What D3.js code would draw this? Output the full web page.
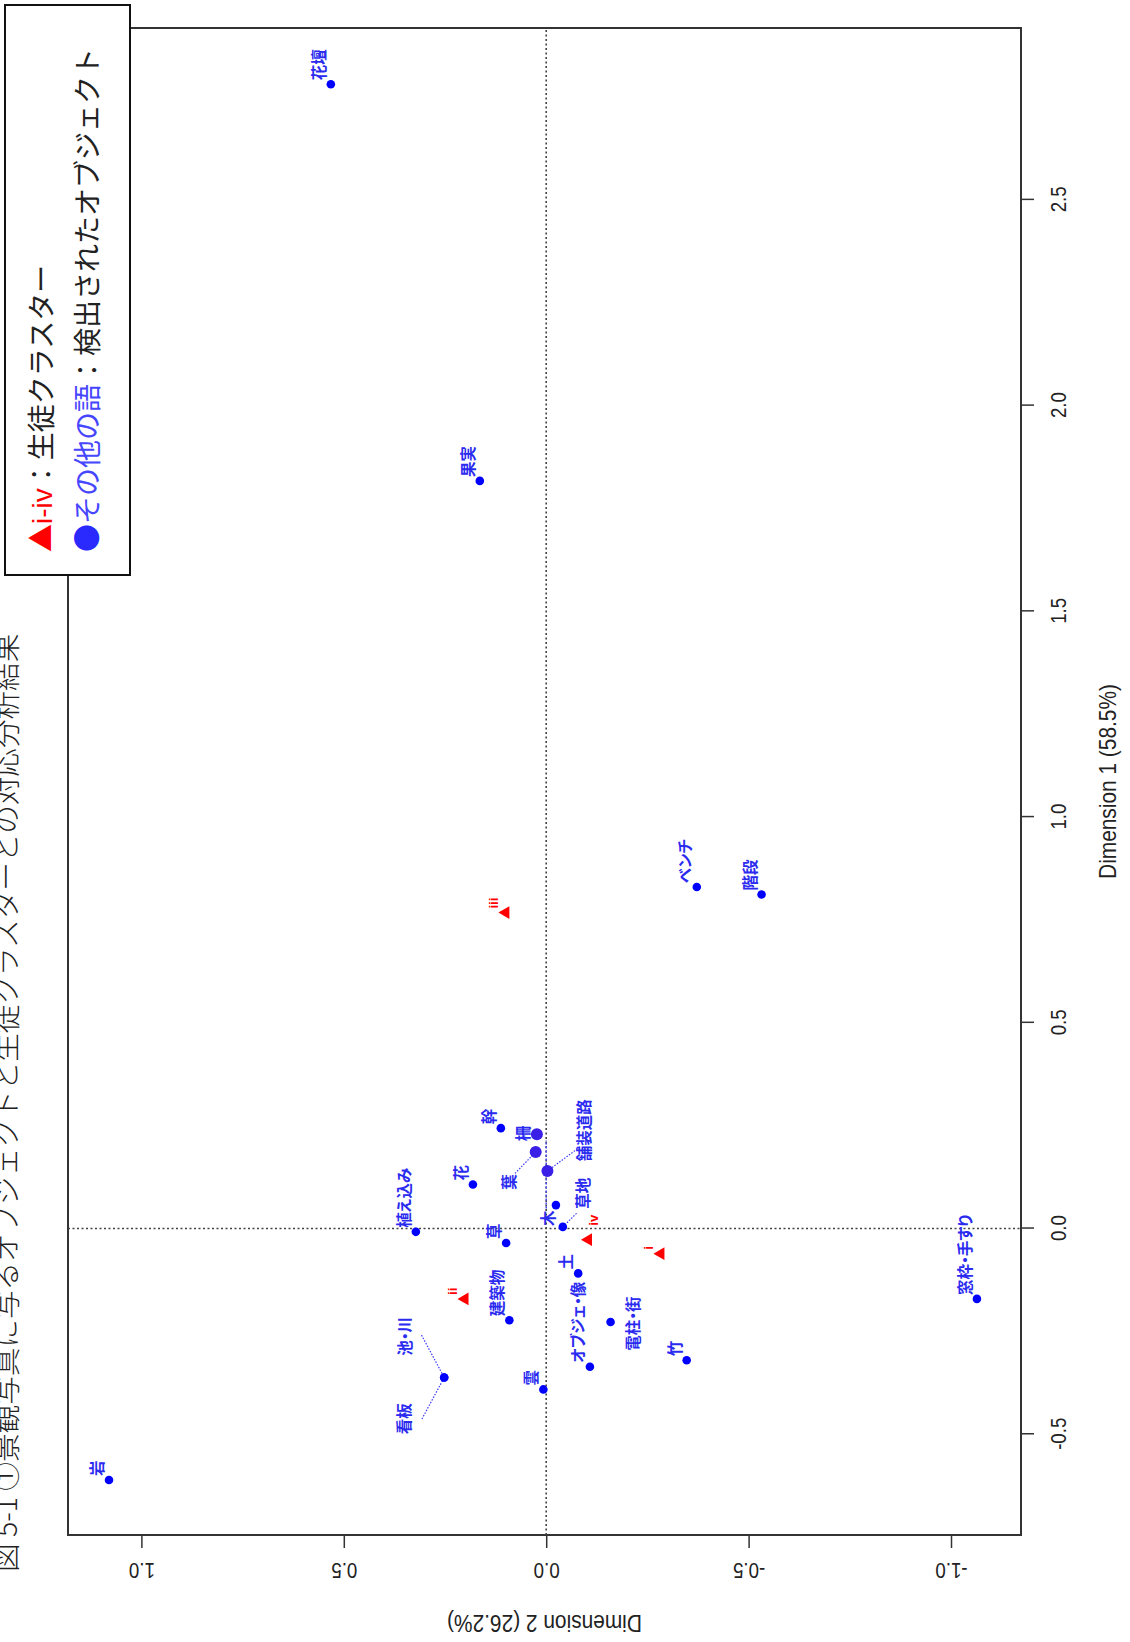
<!DOCTYPE html>
<html>
<head>
<meta charset="utf-8">
<script src="https://cdn.jsdelivr.net/npm/d3@7"></script>
<style>
  body { margin: 0; background: #fff; }
  .jp { font-family: "Noto Sans CJK JP", sans-serif; }
  .num { font-family: "Liberation Sans", Arial, sans-serif; }
</style>
</head>
<body>
<script>
// objects detected in the photos (blue dots)
var objectNames = ["花壇", "果実", "ベンチ", "階段", "岩", "窓枠・手すり", "植え込み", "花", "幹", "柵", "葉", "舗装道路",
                   "木", "草地", "草", "土", "建築物", "電柱・街", "オブジェ・像", "竹", "池・川", "看板", "雲"];
var objectDim1 = [2.781, 1.817, 0.830, 0.812, -0.611, -0.171, -0.008, 0.107, 0.244, 0.229, 0.186, 0.140,
                  0.057, 0.004, -0.035, -0.109, -0.223, -0.227, -0.336, -0.320, -0.362, -0.362, -0.391];
var objectDim2 = [0.532, 0.164, -0.372, -0.532, 1.080, -1.064, 0.322, 0.181, 0.112, 0.023, 0.026, -0.003,
                  -0.024, -0.041, 0.099, -0.079, 0.091, -0.159, -0.108, -0.347, 0.252, 0.252, 0.007];
var largeObjects = ["柵", "葉", "舗装道路"];

// student clusters (red triangles)
var clusterNames = ["i", "ii", "iii", "iv"];
var clusterDim1 = [-0.061, -0.171, 0.768, -0.027];
var clusterDim2 = [-0.283, 0.201, 0.100, -0.104];

// labels that were moved away from their point (label centre, in data units)
var movedNames = ["柵", "葉", "舗装道路", "草地", "木", "電柱・街", "池・川", "看板", "iv"];
var movedDim1  = [0.231, 0.113, 0.239, 0.086, 0.025, -0.231, -0.262, -0.462, 0.020];
var movedDim2  = [0.061, 0.094, -0.092, -0.088, -0.001, -0.211, 0.351, 0.353, -0.116];

// leader lines: start point (data units) -> the object's point
var leaderNames = ["葉", "舗装道路", "草地", "池・川", "看板"];
var leaderDim1  = [0.134, 0.198, 0.037, -0.259, -0.463];
var leaderDim2  = [0.077, -0.083, -0.075, 0.308, 0.307];
// stray leader along the vertical axis
var axisLeaderDim1 = [0.049, 0.215];

var dim1Ticks = [-0.5, 0.0, 0.5, 1.0, 1.5, 2.0, 2.5];
var dim2Ticks = [-1.0, -0.5, 0.0, 0.5, 1.0];
var dim1Title = "Dimension 1 (58.5%)";
var dim2Title = "Dimension 2 (26.2%)";
var figTitle = "図 5-1 ①景観写真に写るオブジェクトと生徒クラスターとの対応分析結果";

var W = 1130, H = 1642;
var narrow = 0.85;   // the axis font is a condensed one
var svg = d3.select("body").append("svg").attr("width", W).attr("height", H);

// the whole figure is turned a quarter turn, so draw it upright and rotate
var g = svg.append("g").attr("transform", "translate(0," + H + ") rotate(-90)");

var x = d3.scaleLinear().domain([-0.7448, 2.9177]).range([107, 1614]);
var y = d3.scaleLinear().domain([-1.1729, 1.1813]).range([1021, 68]);

var objects = objectNames.map(function(n, i) { return {name: n, d1: objectDim1[i], d2: objectDim2[i]}; });
var clusters = clusterNames.map(function(n, i) { return {name: n, d1: clusterDim1[i], d2: clusterDim2[i]}; });
var byName = {};
objects.forEach(function(o) { byName[o.name] = o; });
var moved = {};
movedNames.forEach(function(n, i) { moved[n] = {d1: movedDim1[i], d2: movedDim2[i]}; });

// title (partly under the legend box, cut at the page edge as in the scan)
g.append("text").attr("class", "jp")
  .attr("x", 70).attr("y", 17)
  .attr("font-size", 28.6).attr("font-weight", 300).attr("fill", "#222")
  .text(figTitle);

// frame
g.append("rect")
  .attr("x", x.range()[0]).attr("y", y.range()[1])
  .attr("width", x.range()[1] - x.range()[0]).attr("height", y.range()[0] - y.range()[1])
  .attr("fill", "none").attr("stroke", "#333").attr("stroke-width", 2);

// dotted zero lines
g.append("line")
  .attr("x1", x(0)).attr("x2", x(0)).attr("y1", y.range()[1]).attr("y2", y.range()[0])
  .attr("stroke", "#444").attr("stroke-width", 1.6).attr("stroke-dasharray", "2,2.5");
g.append("line")
  .attr("x1", x.range()[0]).attr("x2", x.range()[1]).attr("y1", y(0)).attr("y2", y(0))
  .attr("stroke", "#444").attr("stroke-width", 1.6).attr("stroke-dasharray", "2,2.5");

// axes
var xAxis = g.append("g").attr("class", "num")
  .attr("transform", "translate(0," + y.range()[0] + ")")
  .call(d3.axisBottom(x).tickValues(dim1Ticks).tickSize(13).tickFormat(function(d) { return d.toFixed(1); }));
xAxis.select(".domain").remove();
xAxis.selectAll("line").attr("stroke", "#333").attr("stroke-width", 1.5);
xAxis.selectAll("text").attr("y", 37).attr("dy", "0.35em")
  .attr("transform", "scale(" + narrow + ",1)")
  .attr("font-size", 22).attr("fill", "#222").attr("font-family", null);

var yAxis = g.append("g").attr("class", "num")
  .attr("transform", "translate(" + x.range()[0] + ",0)")
  .call(d3.axisLeft(y).tickValues(dim2Ticks).tickSize(13).tickFormat(function(d) { return d.toFixed(1); }));
yAxis.select(".domain").remove();
yAxis.selectAll("line").attr("stroke", "#333").attr("stroke-width", 1.5);
yAxis.selectAll("text")
  .attr("x", null).attr("dy", null)
  .attr("transform", "translate(-36,0) rotate(-90) scale(" + narrow + ",1)")
  .attr("text-anchor", "middle").attr("dominant-baseline", "central")
  .attr("font-size", 22).attr("fill", "#222").attr("font-family", null);

g.append("text").attr("class", "num")
  .attr("transform", "translate(" + (x.range()[0] + x.range()[1]) / 2 + ",1108) scale(0.87,1)")
  .attr("text-anchor", "middle").attr("dominant-baseline", "central")
  .attr("font-size", 24).attr("fill", "#222")
  .text(dim1Title);
g.append("text").attr("class", "num")
  .attr("transform", "translate(19," + (y.range()[0] + y.range()[1]) / 2 + ") rotate(-90) scale(0.87,1)")
  .attr("text-anchor", "middle").attr("dominant-baseline", "central")
  .attr("font-size", 24).attr("fill", "#222")
  .text(dim2Title);

// leader lines
var leaders = leaderNames.map(function(n, i) { return {name: n, d1: leaderDim1[i], d2: leaderDim2[i]}; });
g.selectAll(".leader").data(leaders).enter().append("line")
  .attr("class", "leader")
  .attr("x1", function(d) { return x(d.d1); }).attr("y1", function(d) { return y(d.d2); })
  .attr("x2", function(d) { return x(byName[d.name].d1); }).attr("y2", function(d) { return y(byName[d.name].d2); })
  .attr("stroke", "#3a3af5").attr("stroke-width", 1.2).attr("stroke-dasharray", "1.5,1.5");
g.append("line")
  .attr("x1", x(axisLeaderDim1[0])).attr("x2", x(axisLeaderDim1[1]))
  .attr("y1", y(0)).attr("y2", y(0))
  .attr("stroke", "#5050f0").attr("stroke-width", 1.6).attr("stroke-dasharray", "2,2");

// object points
g.selectAll(".obj").data(objects).enter().append("circle")
  .attr("class", "obj")
  .attr("cx", function(d) { return x(d.d1); })
  .attr("cy", function(d) { return y(d.d2); })
  .attr("r", function(d) { return largeObjects.indexOf(d.name) >= 0 ? 6 : 4.3; })
  .attr("fill", function(d) { return largeObjects.indexOf(d.name) >= 0 ? "#3a1fe6" : "#0000ff"; });

// cluster triangles
g.selectAll(".clu").data(clusters).enter().append("path")
  .attr("class", "clu")
  .attr("transform", function(d) { return "translate(" + x(d.d1) + "," + y(d.d2) + ")"; })
  .attr("d", d3.symbol().type(d3.symbolTriangle).size(70))
  .attr("fill", "#ff0000");

// object labels
g.selectAll(".objlab").data(objects).enter().append("text")
  .attr("class", "objlab jp")
  .attr("x", function(d) { return moved[d.name] ? x(moved[d.name].d1) : x(d.d1) + 4; })
  .attr("y", function(d) { return moved[d.name] ? y(moved[d.name].d2) : y(d.d2) - 13; })
  .attr("text-anchor", function(d) { return moved[d.name] ? "middle" : "start"; })
  .attr("dominant-baseline", "central")
  .attr("font-size", 15.5).attr("font-weight", 700)
  .style("font-feature-settings", "'palt'")
  .attr("fill", "#2b2bf0")
  .text(function(d) { return d.name; });

// cluster labels
g.selectAll(".clulab").data(clusters).enter().append("text")
  .attr("class", "clulab")
  .attr("x", function(d) { return moved[d.name] ? x(moved[d.name].d1) : x(d.d1) + 4; })
  .attr("y", function(d) { return moved[d.name] ? y(moved[d.name].d2) : y(d.d2) - 12; })
  .attr("text-anchor", function(d) { return moved[d.name] ? "middle" : "start"; })
  .attr("dominant-baseline", "central")
  .attr("font-family", "Liberation Sans, Arial, sans-serif")
  .attr("font-size", 13).attr("font-weight", 700)
  .attr("fill", "#ff0000")
  .text(function(d) { return d.name; });

// legend box
var leg = g.append("g");
leg.append("rect")
  .attr("x", H - 575).attr("y", 5)
  .attr("width", 570).attr("height", 125)
  .attr("fill", "#fff").attr("stroke", "#111").attr("stroke-width", 2);
var l1 = leg.append("text").attr("class", "jp")
  .attr("x", H - 552).attr("y", 52).attr("font-size", 28);
l1.append("tspan").attr("fill", "#ff0000").text("▲");
l1.append("tspan").attr("fill", "#ff0000").attr("font-family", "Liberation Sans, Arial, sans-serif").text("i-iv");
l1.append("tspan").attr("fill", "#222").text("：生徒クラスター");
var l2 = leg.append("text").attr("class", "jp")
  .attr("x", H - 552).attr("y", 98).attr("font-size", 28);
l2.append("tspan").attr("fill", "#2a2aff").text("●");
l2.append("tspan").attr("fill", "#4646ff").text("その他の語");
l2.append("tspan").attr("fill", "#222").text("：検出されたオブジェクト");
</script>
</body>
</html>
